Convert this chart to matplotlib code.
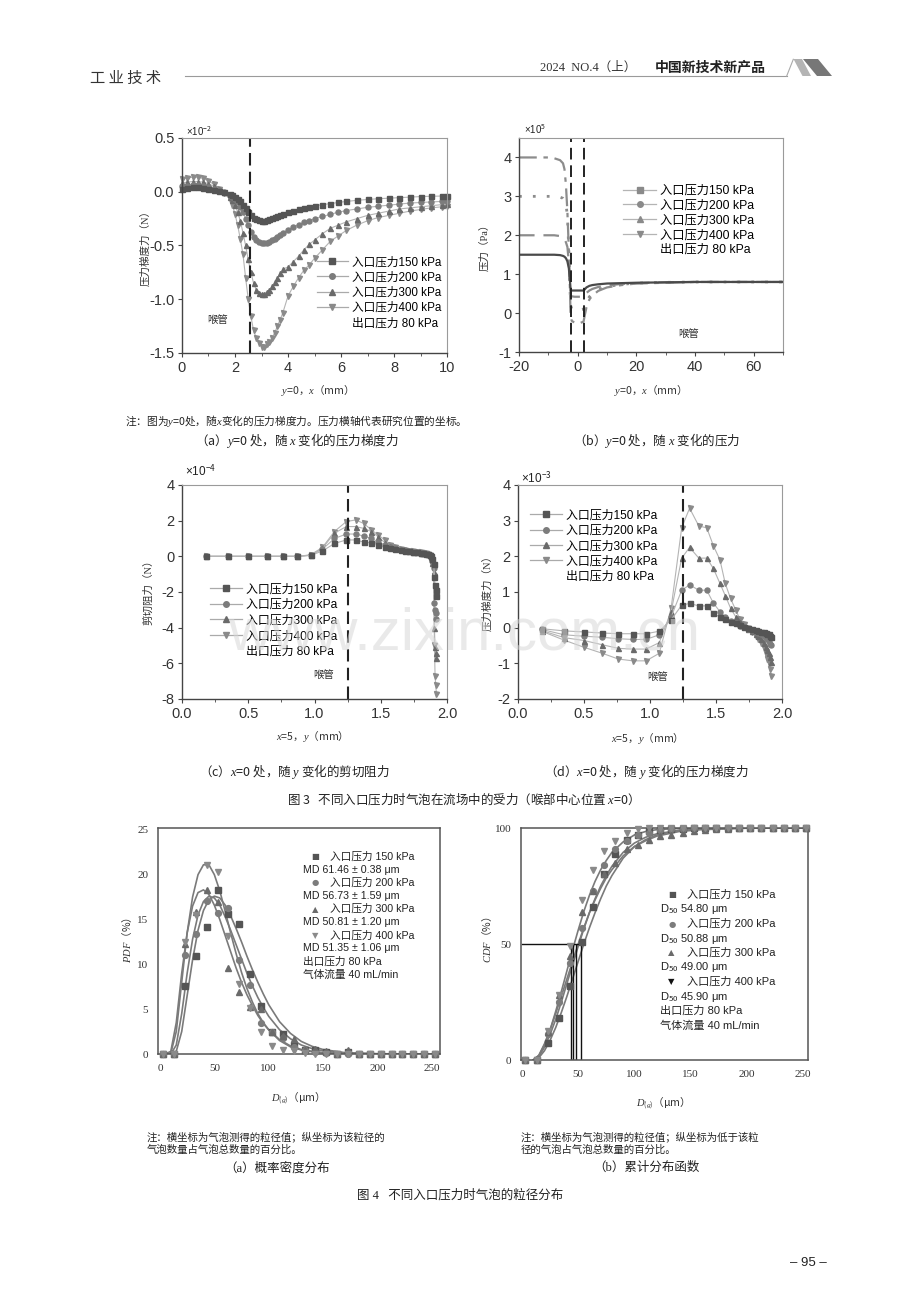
import matplotlib
matplotlib.use('Agg')
import matplotlib.pyplot as plt
from matplotlib.lines import Line2D
from matplotlib.patches import Polygon
from matplotlib.font_manager import FontProperties

plt.rcParams['axes.unicode_minus'] = False
plt.rcParams['mathtext.fontset'] = 'custom'
plt.rcParams['mathtext.rm'] = 'Noto Sans CJK SC'
plt.rcParams['mathtext.it'] = 'Liberation Serif:italic'
plt.rcParams['mathtext.bf'] = 'Noto Sans CJK SC:bold'
plt.rcParams['font.family'] = ['Liberation Sans', 'Noto Sans CJK SC', 'DejaVu Sans']

SANS = ['Liberation Sans', 'Noto Sans CJK SC', 'DejaVu Sans']
SERIF = ['Liberation Serif', 'Noto Sans CJK SC', 'DejaVu Sans']
CJK = ['Noto Sans CJK SC', 'DejaVu Sans']

# ---------------- data ----------------
labels = ['入口压力150 kPa', '入口压力200 kPa', '入口压力300 kPa', '入口压力400 kPa']
outlet = '出口压力 80 kPa'

# (a) pressure gradient force along x at y=0 (x1e-2 N)
x_a = [0, 0.2, 0.4, 0.6, 0.8, 1.0, 1.2, 1.4, 1.6, 1.8, 1.9, 2.0, 2.1, 2.2, 2.3, 2.4, 2.5, 2.6, 2.7,
       2.8, 2.9, 3.0, 3.1, 3.2, 3.3, 3.4, 3.5, 3.6, 3.7, 3.8, 4.0, 4.2, 4.4, 4.6, 4.8, 5.0, 5.3, 5.6,
       5.9, 6.2, 6.6, 7.0, 7.4, 7.8, 8.2, 8.6, 9.0, 9.4, 9.8, 10.0]
a150 = [0.03, 0.035, 0.04, 0.04, 0.035, 0.03, 0.02, 0.01, -0.003, -0.02, -0.03, -0.045, -0.065, -0.09,
        -0.12, -0.155, -0.19, -0.22, -0.24, -0.255, -0.265, -0.27, -0.27, -0.265, -0.255, -0.245, -0.235,
        -0.225, -0.215, -0.205, -0.19, -0.175, -0.16, -0.15, -0.14, -0.13, -0.12, -0.11, -0.10, -0.09,
        -0.08, -0.072, -0.065, -0.06, -0.055, -0.05, -0.045, -0.042, -0.04, -0.04]
a200 = [0.05, 0.055, 0.06, 0.06, 0.055, 0.045, 0.03, 0.015, -0.005, -0.03, -0.05, -0.07, -0.10, -0.14,
        -0.19, -0.25, -0.31, -0.37, -0.42, -0.45, -0.47, -0.48, -0.48, -0.475, -0.465, -0.45, -0.435,
        -0.42, -0.40, -0.385, -0.355, -0.33, -0.305, -0.285, -0.27, -0.25, -0.23, -0.21, -0.19, -0.175,
        -0.16, -0.145, -0.135, -0.125, -0.115, -0.105, -0.10, -0.095, -0.09, -0.085]
a300 = [0.08, 0.09, 0.095, 0.095, 0.09, 0.075, 0.05, 0.025, -0.005, -0.05, -0.08, -0.12, -0.19, -0.27,
        -0.38, -0.50, -0.63, -0.75, -0.85, -0.91, -0.94, -0.95, -0.95, -0.93, -0.91, -0.88, -0.84, -0.80,
        -0.76, -0.72, -0.70, -0.65, -0.60, -0.54, -0.49, -0.45, -0.39, -0.34, -0.31, -0.28, -0.25, -0.22,
        -0.20, -0.18, -0.16, -0.15, -0.14, -0.13, -0.12, -0.115]
a400 = [0.12, 0.13, 0.135, 0.135, 0.125, 0.10, 0.07, 0.03, -0.01, -0.07, -0.12, -0.21, -0.31, -0.44,
        -0.58, -0.80, -1.00, -1.16, -1.29, -1.36, -1.41, -1.44, -1.44, -1.42, -1.40, -1.36, -1.31, -1.25,
        -1.19, -1.13, -0.97, -0.88, -0.80, -0.73, -0.68, -0.62, -0.54, -0.46, -0.41, -0.36, -0.31, -0.27,
        -0.24, -0.22, -0.20, -0.18, -0.165, -0.15, -0.14, -0.13]

# (b) pressure along x (x1e5 Pa)
x_b = [-20, -15, -10, -8, -6, -5, -4.5, -4, -3.5, -3, -2.6, -2.4, -2, -1, 0, 1, 2, 2.3, 3, 4, 5, 7,
       10, 15, 20, 30, 40, 50, 60, 70]
b150 = [1.5, 1.5, 1.5, 1.5, 1.49, 1.47, 1.45, 1.41, 1.33, 1.15, 0.8, 0.6, 0.58, 0.58, 0.58, 0.58, 0.58,
        0.6, 0.66, 0.7, 0.72, 0.74, 0.76, 0.77, 0.78, 0.79, 0.8, 0.8, 0.8, 0.8]
b200 = [2.0, 2.0, 2.0, 2.0, 1.98, 1.95, 1.9, 1.82, 1.7, 1.3, 0.7, 0.45, 0.43, 0.42, 0.42, 0.42, 0.42,
        0.45, 0.52, 0.58, 0.62, 0.67, 0.71, 0.75, 0.77, 0.79, 0.8, 0.8, 0.8, 0.8]
b300 = [3.0, 3.0, 3.0, 3.0, 2.98, 2.95, 2.9, 2.8, 2.5, 1.6, 0.6, 0.2, 0.1, 0.08, 0.08, 0.08, 0.1, 0.15,
        0.3, 0.42, 0.5, 0.6, 0.68, 0.74, 0.77, 0.79, 0.8, 0.8, 0.8, 0.8]
b400 = [4.0, 4.0, 4.0, 3.98, 3.93, 3.85, 3.7, 3.3, 2.6, 1.6, 0.5, -0.1, -0.2, -0.25, -0.25, -0.25, -0.22,
        -0.1, 0.15, 0.35, 0.45, 0.57, 0.66, 0.72, 0.76, 0.78, 0.8, 0.8, 0.8, 0.8]

# (c) shear resistance along y at x=5 (x1e-4 N)
x_c = [0.18, 0.35, 0.5, 0.64, 0.76, 0.87, 0.97, 1.06, 1.15, 1.24, 1.31, 1.37, 1.43, 1.48, 1.53, 1.57,
       1.61, 1.65, 1.68, 1.71, 1.74, 1.77, 1.80, 1.82, 1.84, 1.86, 1.87, 1.88, 1.89, 1.90, 1.905, 1.91,
       1.915, 1.92]
c150 = [0, 0, 0, 0, 0, 0, 0.05, 0.3, 0.72, 0.92, 0.92, 0.8, 0.75, 0.66, 0.55, 0.47, 0.40, 0.35, 0.31,
        0.28, 0.25, 0.22, 0.2, 0.18, 0.15, 0.12, 0.08, 0.0, -0.15, -0.45, -1.14, -1.6, -1.9, -2.2]
c200 = [0, 0, 0, 0, 0, 0, 0.06, 0.4, 1.0, 1.25, 1.25, 1.14, 1.0, 0.82, 0.64, 0.52, 0.44, 0.38, 0.33,
        0.29, 0.26, 0.23, 0.2, 0.18, 0.15, 0.12, 0.08, -0.02, -0.25, -0.65, -2.64, -3.0, -3.2, -3.5]
c300 = [0, 0, 0, 0, 0, 0, 0.07, 0.45, 1.3, 1.67, 1.67, 1.57, 1.39, 1.1, 0.77, 0.58, 0.47, 0.40, 0.35,
        0.30, 0.27, 0.24, 0.21, 0.19, 0.16, 0.12, 0.08, -0.05, -0.35, -0.9, -4.0, -5.1, -5.4, -5.7]
c400 = [0, 0, 0, 0, 0, 0, 0.08, 0.5, 1.39, 1.95, 2.04, 1.85, 1.48, 1.2, 0.92, 0.65, 0.5, 0.42, 0.36,
        0.31, 0.28, 0.25, 0.22, 0.2, 0.17, 0.13, 0.08, -0.08, -0.45, -1.1, -5.0, -6.7, -7.2, -7.7]

# (d) pressure gradient force along y at x=5 (x1e-3 N)
x_d = [0.18, 0.35, 0.5, 0.64, 0.76, 0.87, 0.97, 1.07, 1.16, 1.24, 1.3, 1.37, 1.43, 1.48, 1.53, 1.57,
       1.61, 1.65, 1.68, 1.71, 1.74, 1.77, 1.80, 1.82, 1.84, 1.86, 1.88, 1.89, 1.90, 1.91, 1.92]
d150 = [-0.03, -0.09, -0.12, -0.15, -0.17, -0.17, -0.17, -0.10, 0.22, 0.63, 0.68, 0.61, 0.61, 0.40,
        0.30, 0.23, 0.17, 0.12, 0.07, 0.03, -0.01, -0.04, -0.07, -0.09, -0.11, -0.13, -0.15, -0.17,
        -0.19, -0.22, -0.25]
d200 = [-0.05, -0.2, -0.24, -0.27, -0.31, -0.33, -0.33, -0.2, 0.3, 1.05, 1.2, 1.05, 1.05, 0.69, 0.45,
        0.3, 0.2, 0.12, 0.06, 0.02, -0.03, -0.07, -0.11, -0.15, -0.19, -0.23, -0.28, -0.33, -0.38,
        -0.45, -0.5]
d300 = [-0.08, -0.28, -0.36, -0.48, -0.58, -0.6, -0.6, -0.42, 0.45, 1.95, 2.25, 1.95, 1.95, 1.66, 1.24,
        0.9, 0.55, 0.3, 0.15, 0.05, -0.03, -0.1, -0.17, -0.24, -0.32, -0.42, -0.55, -0.63, -0.72,
        -0.82, -0.95]
d400 = [-0.1, -0.35, -0.55, -0.72, -0.88, -0.93, -0.93, -0.72, 0.55, 2.8, 3.35, 2.85, 2.8, 2.3, 1.9,
        1.24, 0.82, 0.49, 0.25, 0.1, -0.02, -0.12, -0.22, -0.32, -0.44, -0.58, -0.75, -0.88, -1.0,
        -1.15, -1.35]

# (e)/(f) bubble size distribution
d_pts = [3, 13, 23, 33, 43, 53, 63, 73, 83, 93, 103, 113, 123, 133, 143, 153, 163, 173, 183, 193,
         203, 213, 223, 233, 243, 253]
pdf150 = [0, 0, 7.6, 10.9, 14.2, 18.3, 15.6, 14.5, 8.9, 5.3, 2.5, 2.2, 1.0, 0.5, 0.5, 0.2, 0, 0.2, 0,
          0, 0, 0, 0, 0, 0, 0]
pdf200 = [0, 0, 11.0, 13.4, 17.1, 15.7, 16.3, 10.5, 7.7, 3.5, 2.5, 1.8, 0.8, 0.4, 0.2, 0.1, 0, 0, 0,
          0, 0, 0, 0, 0, 0, 0]
pdf300 = [0, 0, 12.3, 15.8, 18.3, 17.0, 9.6, 6.9, 5.2, 5.0, 2.5, 2.0, 1.7, 0.5, 0.6, 0.3, 0, 0.5, 0,
          0, 0, 0, 0, 0, 0, 0]
pdf400 = [0, 0, 12.5, 15.5, 21.1, 20.3, 13.2, 7.8, 5.1, 2.5, 0.9, 0.5, 0.3, 0.1, 0, 0, 0, 0, 0, 0, 0,
          0, 0, 0, 0, 0]
fit_x = [5, 10, 15, 20, 25, 30, 35, 40, 45, 50, 55, 60, 65, 70, 75, 80, 85, 90, 95, 100, 110, 120,
         130, 140, 150, 170, 200, 258]
pfit150 = [0, 0, 0.3, 2.5, 6.5, 10.5, 13.8, 16.0, 17.2, 17.6, 17.4, 16.6, 15.4, 14.0, 12.5, 10.9, 9.4,
           8.0, 6.7, 5.5, 3.6, 2.3, 1.4, 0.85, 0.5, 0.15, 0.03, 0]
pfit200 = [0, 0, 1.0, 4.5, 9, 12.8, 15.5, 17.0, 17.6, 17.4, 16.6, 15.3, 13.8, 12.2, 10.6, 9.0, 7.6,
           6.3, 5.2, 4.2, 2.7, 1.7, 1.0, 0.6, 0.35, 0.1, 0.02, 0]
pfit300 = [0, 0.3, 3.5, 9, 13.5, 16.5, 18, 18.3, 17.8, 16.6, 15.0, 13.2, 11.4, 9.6, 8.0, 6.6, 5.4, 4.3,
           3.4, 2.7, 1.6, 0.9, 0.5, 0.3, 0.15, 0.04, 0, 0]
pfit400 = [0, 0.1, 2.5, 8, 13.5, 17.5, 20.0, 21.1, 21.1, 20.0, 18.2, 15.9, 13.5, 11.2, 9.1, 7.3, 5.8,
           4.5, 3.5, 2.7, 1.5, 0.8, 0.45, 0.25, 0.12, 0.03, 0, 0]

cdf150 = [0, 0, 7.5, 18, 32, 51, 66, 80, 89, 95, 97, 98.5, 99, 99.5, 99.7, 99.8, 100, 100, 100, 100,
          100, 100, 100, 100, 100, 100]
cdf200 = [0, 0, 11, 25, 42, 57, 73, 84, 91, 94.5, 97, 98, 99, 99.5, 99.7, 99.8, 100, 100, 100, 100,
          100, 100, 100, 100, 100, 100]
cdf300 = [0, 0, 12, 28, 45, 64, 73, 80, 85, 91, 92.5, 95, 96.5, 97, 98, 98.5, 99, 99.5, 99.7, 99.8,
          100, 100, 100, 100, 100, 100]
cdf400 = [0, 0, 12.5, 28, 49, 69, 82, 90, 94.5, 98, 99.4, 99.8, 100, 100, 100, 100, 100, 100, 100, 100,
          100, 100, 100, 100, 100, 100]
cfit_x = [10, 15, 20, 25, 30, 35, 40, 45, 50, 55, 60, 65, 70, 75, 80, 90, 100, 110, 120, 140, 160, 200,
          255]
cfit150 = [0, 1, 4, 8.5, 14, 20.5, 27.5, 35, 42.5, 50, 57, 63.5, 69.5, 75, 79.5, 87, 92, 95, 97, 99,
           99.6, 100, 100]
cfit200 = [0, 1.5, 5.5, 11, 17.5, 25, 33, 41, 49, 56.5, 63.5, 69.5, 75, 79.5, 83.5, 89.5, 93.5, 96,
           97.5, 99, 99.6, 100, 100]
cfit300 = [0, 2, 7, 13, 20, 27.5, 35, 42.5, 50, 57, 63.5, 69, 74, 78.5, 82, 88, 92, 94.5, 96.5, 98.5,
           99.3, 99.9, 100]
cfit400 = [0, 2, 6.5, 13, 21, 29.5, 38.5, 47.5, 56, 64, 71, 77, 82, 86, 89.5, 94, 97, 98.5, 99.3, 99.8,
           100, 100, 100]
d50_lines = [43.5, 45.5, 47.7, 52.2]

pdf_legend = ['入口压力 150 kPa', 'MD 61.46 ± 0.38 μm', '入口压力 200 kPa', 'MD 56.73 ± 1.59 μm',
              '入口压力 300 kPa', 'MD 50.81 ± 1.20 μm', '入口压力 400 kPa', 'MD 51.35 ± 1.06 μm',
              '出口压力 80 kPa', '气体流量 40 mL/min']
cdf_legend = ['入口压力 150 kPa', 'D$_{50}$ 54.80 μm', '入口压力 200 kPa', 'D$_{50}$ 50.88 μm',
              '入口压力 300 kPa', 'D$_{50}$ 49.00 μm', '入口压力 400 kPa', 'D$_{50}$ 45.90 μm',
              '出口压力 80 kPa', '气体流量 40 mL/min']

# ---------------- styling ----------------
markers = ['s', 'o', '^', 'v']
mcolors = ['#555555', '#7c7c7c', '#6a6a6a', '#8a8a8a']
glyphs = ['■', '●', '▲', '▼']

W, H = 920, 1302
fig = plt.figure(figsize=(9.2, 13.02), dpi=100)


def box(l, t, r, b):
    return [l / W, 1 - b / H, (r - l) / W, (b - t) / H]


def ptxt(x, y, s, **kw):
    kw.setdefault('family', SERIF)
    kw.setdefault('color', '#222222')
    fig.text(x / W, 1 - y / H, s, **kw)


def origin_style(ax):
    for s in ['left', 'bottom']:
        ax.spines[s].set_color('#444444')
        ax.spines[s].set_linewidth(1.0)
    for s in ['top', 'right']:
        ax.spines[s].set_color('#9a9a9a')
        ax.spines[s].set_linewidth(0.8)
    ax.tick_params(which='both', direction='out', colors='#444444', labelcolor='#333333',
                   labelsize=10.5, top=False, right=False, pad=2.5)
    ax.tick_params(which='major', length=3)
    ax.tick_params(which='minor', length=2)


def series_legend(ax, anchor, fs, spacing):
    hs = [Line2D([], [], color='#aaaaaa', lw=0.9, marker=m, ms=4, mfc=c, mec=c)
          for m, c in zip(markers, mcolors)]
    hs.append(Line2D([], [], alpha=0))
    ax.legend(hs, labels + [outlet], loc='upper left', bbox_to_anchor=anchor, frameon=False,
              prop=FontProperties(family=SANS, size=fs), handlelength=2.7, handletextpad=0.3,
              labelspacing=spacing, borderaxespad=0, borderpad=0)


def draw_series(ax, x, ys):
    for y, m, c in zip(ys[::-1], markers[::-1], mcolors[::-1]):
        ax.plot(x, y, color='#b4b4b4', lw=0.8, marker=m, ms=3.6, mfc=c, mec=c, clip_on=False)


# (a)
ax = fig.add_axes(box(182, 138, 447, 353))
draw_series(ax, x_a, [a150, a200, a300, a400])
ax.axvline(2.55, color='#222222', ls=(0, (6, 3)), lw=1.5)
ax.set_xlim(0, 10)
ax.set_ylim(-1.5, 0.5)
ax.set_xticks([0, 2, 4, 6, 8, 10])
ax.set_xticks([1, 3, 5, 7, 9], minor=True)
ax.set_yticks([0.5, 0.0, -0.5, -1.0, -1.5])
ax.set_yticklabels(['0.5', '0.0', '-0.5', '-1.0', '-1.5'])
origin_style(ax)
ax.text(1.35, -1.19, '喉管', fontsize=7.5, ha='center', va='center', family=SERIF, color='#333333')
series_legend(ax, (0.508, 0.45), 8.4, 0.28)

# (b)
ax = fig.add_axes(box(519, 138, 783, 352))
ax.plot(x_b, b400, color='#8c8c8c', lw=1.6, ls=(0, (8, 3, 2, 3)))
ax.plot(x_b, b300, color='#8c8c8c', lw=2.0, ls=(0, (1, 4)))
ax.plot(x_b, b200, color='#8c8c8c', lw=1.6, ls=(0, (7, 4)))
ax.plot(x_b, b150, color='#4a4a4a', lw=1.6)
ax.axvline(-2.4, color='#222222', ls=(0, (6, 3)), lw=1.4)
ax.axvline(2.3, color='#222222', ls=(0, (6, 3)), lw=1.4)
ax.set_xlim(-20, 70)
ax.set_ylim(-1, 4.5)
ax.set_xticks([-20, 0, 20, 40, 60])
ax.set_xticks([-10, 10, 30, 50, 70], minor=True)
ax.set_yticks([-1, 0, 1, 2, 3, 4])
origin_style(ax)
ax.text(37.8, -0.55, '喉管', fontsize=7.5, ha='center', va='center', family=SERIF, color='#333333')
hs = [Line2D([], [], color='#b4b4b4', lw=0.9, marker=m, ms=4, mfc='#8a8a8a', mec='#8a8a8a')
      for m in markers]
hs.append(Line2D([], [], alpha=0))
ax.legend(hs, labels + [outlet], loc='upper left', bbox_to_anchor=(0.394, 0.78), frameon=False,
          prop=FontProperties(family=SANS, size=8.8), handlelength=2.7, handletextpad=0.3,
          labelspacing=0.22, borderaxespad=0, borderpad=0)

# (c)
ax = fig.add_axes(box(182, 485, 447, 699))
draw_series(ax, x_c, [c150, c200, c300, c400])
ax.axvline(1.253, color='#222222', ls=(0, (6, 3)), lw=1.5)
ax.set_xlim(0, 2)
ax.set_ylim(-8, 4)
ax.set_xticks([0, 0.5, 1.0, 1.5, 2.0])
ax.set_xticklabels(['0.0', '0.5', '1.0', '1.5', '2.0'])
ax.set_xticks([0.25, 0.75, 1.25, 1.75], minor=True)
ax.set_yticks([4, 2, 0, -2, -4, -6, -8])
origin_style(ax)
ax.text(1.07, -6.67, '喉管', fontsize=7.5, ha='center', va='center', family=SERIF, color='#333333')
series_legend(ax, (0.106, 0.54), 8.6, 0.3)

# (d)
ax = fig.add_axes(box(518, 485, 782, 699))
draw_series(ax, x_d, [d150, d200, d300, d400])
ax.axvline(1.25, color='#222222', ls=(0, (6, 3)), lw=1.5)
ax.set_xlim(0, 2)
ax.set_ylim(-2, 4)
ax.set_xticks([0, 0.5, 1.0, 1.5, 2.0])
ax.set_xticklabels(['0.0', '0.5', '1.0', '1.5', '2.0'])
ax.set_xticks([0.25, 0.75, 1.25, 1.75], minor=True)
ax.set_yticks([-2, -1, 0, 1, 2, 3, 4])
origin_style(ax)
ax.text(1.06, -1.39, '喉管', fontsize=7.5, ha='center', va='center', family=SERIF, color='#333333')
series_legend(ax, (0.045, 0.885), 8.6, 0.28)

# exponent labels
ptxt(186, 131, '×10$^{-2}$', fontsize=7, family=SANS, va='center')
ptxt(524, 129, '×10$^{5}$', fontsize=7, family=SANS, va='center')
ptxt(185, 470, '×10$^{-4}$', fontsize=8.5, family=SANS, va='center')
ptxt(521, 477, '×10$^{-3}$', fontsize=8.5, family=SANS, va='center')


def excel_style(ax):
    for s in ax.spines.values():
        s.set_color('#555555')
        s.set_linewidth(1.1)
    ax.tick_params(which='both', length=0, labelsize=8, labelcolor='#333333', pad=7)
    for t in ax.get_xticklabels() + ax.get_yticklabels():
        t.set_family(SERIF)


# (e) PDF
ax = fig.add_axes(box(158, 828, 440, 1054))
for fy in [pfit150, pfit200, pfit300, pfit400]:
    ax.plot(fit_x, fy, color='#7a7a7a', lw=1.2)
for y, m, c in zip([pdf150, pdf200, pdf300, pdf400], markers, mcolors):
    ax.plot(d_pts, y, ls='none', marker=m, ms=4.2, mfc=c, mec=c, clip_on=False, zorder=3)
ax.set_xlim(-1.8, 257.5)
ax.set_ylim(0, 25.2)
ax.set_xticks([0, 50, 100, 150, 200, 250])
ax.set_yticks([0, 5, 10, 15, 20, 25])
excel_style(ax)
for i, s in enumerate(pdf_legend):
    yy = 856.7 + i * 13.1
    if i % 2 == 0 and i < 8:
        ptxt(315, yy, glyphs[i // 2], fontsize=6, family=['DejaVu Sans'], color=mcolors[i // 2],
             ha='center', va='center')
        ptxt(330, yy, s, fontsize=7.7, family=SANS, va='center')
    else:
        ptxt(302.7, yy, s, fontsize=7.7, family=SANS, va='center')

# (f) CDF
ax = fig.add_axes(box(521, 828, 808, 1060))
for fy in [cfit150, cfit200, cfit300, cfit400]:
    ax.plot(cfit_x, fy, color='#7a7a7a', lw=1.2)
for y, m, c in zip([cdf150, cdf200, cdf300, cdf400], markers, mcolors):
    ax.plot(d_pts, y, ls='none', marker=m, ms=4.2, mfc=c, mec=c, clip_on=False, zorder=3)
ax.plot([0, max(d50_lines)], [50, 50], color='#111111', lw=1.0)
ax.vlines(d50_lines, 0, 50, color='#111111', lw=1.0)
ax.set_xlim(-0.9, 254.5)
ax.set_ylim(0, 100)
ax.set_xticks([0, 50, 100, 150, 200, 250])
ax.set_yticks([0, 50, 100])
excel_style(ax)
gcols = ['#555555', '#7c7c7c', '#6a6a6a', '#111111']
for i, s in enumerate(cdf_legend):
    yy = 895 + i * 14.5
    if i % 2 == 0 and i < 8:
        ptxt(671.7, yy, glyphs[i // 2], fontsize=6, family=['DejaVu Sans'], color=gcols[i // 2],
             ha='center', va='center')
        ptxt(686.7, yy, s, fontsize=8, family=SANS, va='center')
    else:
        ptxt(660, yy, s, fontsize=8, family=SANS, va='center')

# axis labels (strings with $...$ need the CJK font first, mathtext does not fall back)
lab = dict(fontsize=7.6, ha='center', va='center', color='#333333')
ptxt(145, 245, '压力梯度力（N）', rotation=90, family=SERIF, **lab)
ptxt(484, 245, '压力（Pa）', rotation=90, family=SERIF, **lab)
ptxt(148, 590, '剪切阻力（N）', rotation=90, family=SERIF, **lab)
ptxt(487, 590, '压力梯度力（N）', rotation=90, family=SERIF, **lab)
ptxt(127, 940, '$PDF$（%）', rotation=90, family=CJK, **lab)
ptxt(487, 940, '$CDF$（%）', rotation=90, family=CJK, **lab)
ptxt(315, 390, '$y$=0，$x$（mm）', family=CJK, **lab)
ptxt(648, 390, '$y$=0，$x$（mm）', family=CJK, **lab)
ptxt(310, 736, '$x$=5，$y$（mm）', family=CJK, **lab)
ptxt(645, 738, '$x$=5，$y$（mm）', family=CJK, **lab)
ptxt(295, 1098, '$D_{(g)}$（μm）', family=CJK, **lab)
ptxt(660, 1103, '$D_{(g)}$（μm）', family=CJK, **lab)

# captions
cap = dict(fontsize=9, ha='center', va='center', color='#222222')
ptxt(125, 421, '注：图为$y$=0处，随$x$变化的压力梯度力。压力横轴代表研究位置的坐标。', fontsize=7.7,
     va='center', family=CJK)
ptxt(297, 440, '（a）$y$=0 处，随 $x$ 变化的压力梯度力', family=CJK, **cap)
ptxt(656, 440, '（b）$y$=0 处，随 $x$ 变化的压力', family=CJK, **cap)
ptxt(294, 771, '（c）$x$=0 处，随 $y$ 变化的剪切阻力', family=CJK, **cap)
ptxt(646, 771, '（d）$x$=0 处，随 $y$ 变化的压力梯度力', family=CJK, **cap)
ptxt(460, 799, '图 3   不同入口压力时气泡在流场中的受力（喉部中心位置 $x$=0）', family=CJK, **cap)
ptxt(147, 1137, '注：横坐标为气泡测得的粒径值；纵坐标为该粒径的', fontsize=7.5, va='center')
ptxt(147, 1150, '气泡数量占气泡总数量的百分比。', fontsize=7.5, va='center')
ptxt(521, 1137, '注：横坐标为气泡测得的粒径值；纵坐标为低于该粒', fontsize=7.5, va='center')
ptxt(521, 1150, '径的气泡占气泡总数量的百分比。', fontsize=7.5, va='center')
ptxt(277, 1168, '（a）概率密度分布', family=SERIF, **cap)
ptxt(646, 1168, '（b）累计分布函数', family=SERIF, **cap)
ptxt(460, 1195, '图 4   不同入口压力时气泡的粒径分布', family=SERIF, **cap)

# header and footer
ptxt(90, 78, '工 业 技 术', fontsize=11, va='center', family=['Noto Sans CJK SC'], color='#333333')
fig.add_artist(Line2D([185 / W, 787 / W], [1 - 76 / H, 1 - 76 / H], color='#9a9a9a', lw=0.8))
ptxt(540, 68, '2024  NO.4（上）', fontsize=9, va='center', family=SERIF, color='#333333')
ptxt(655, 68, '中国新技术新产品', fontsize=10, va='center', family=['Noto Sans CJK SC'],
     weight='bold', color='#222222')
fig.add_artist(Line2D([786.7 / W, 793.3 / W], [1 - 76 / H, 1 - 59.3 / H], color='#aaaaaa', lw=0.8))
fig.add_artist(Polygon([[793.5 / W, 1 - 59 / H], [802 / W, 1 - 59 / H], [811 / W, 1 - 76 / H],
                        [802.5 / W, 1 - 76 / H]], closed=True, transform=fig.transFigure,
                       facecolor='#b4b4b4', edgecolor='none'))
fig.add_artist(Polygon([[803 / W, 1 - 59 / H], [818 / W, 1 - 59 / H], [832 / W, 1 - 76 / H],
                        [817 / W, 1 - 76 / H]], closed=True, transform=fig.transFigure,
                       facecolor='#777777', edgecolor='none'))
ptxt(808, 1263, '– 95 –', fontsize=9.5, ha='center', va='center', family=SANS, color='#222222')

# watermark
ptxt(228, 650, 'www.zixin.com.cn', fontsize=43, family=SANS, color='#d8d8d8', alpha=0.55,
     va='baseline', zorder=20)

fig.savefig('out.png', dpi=100)
